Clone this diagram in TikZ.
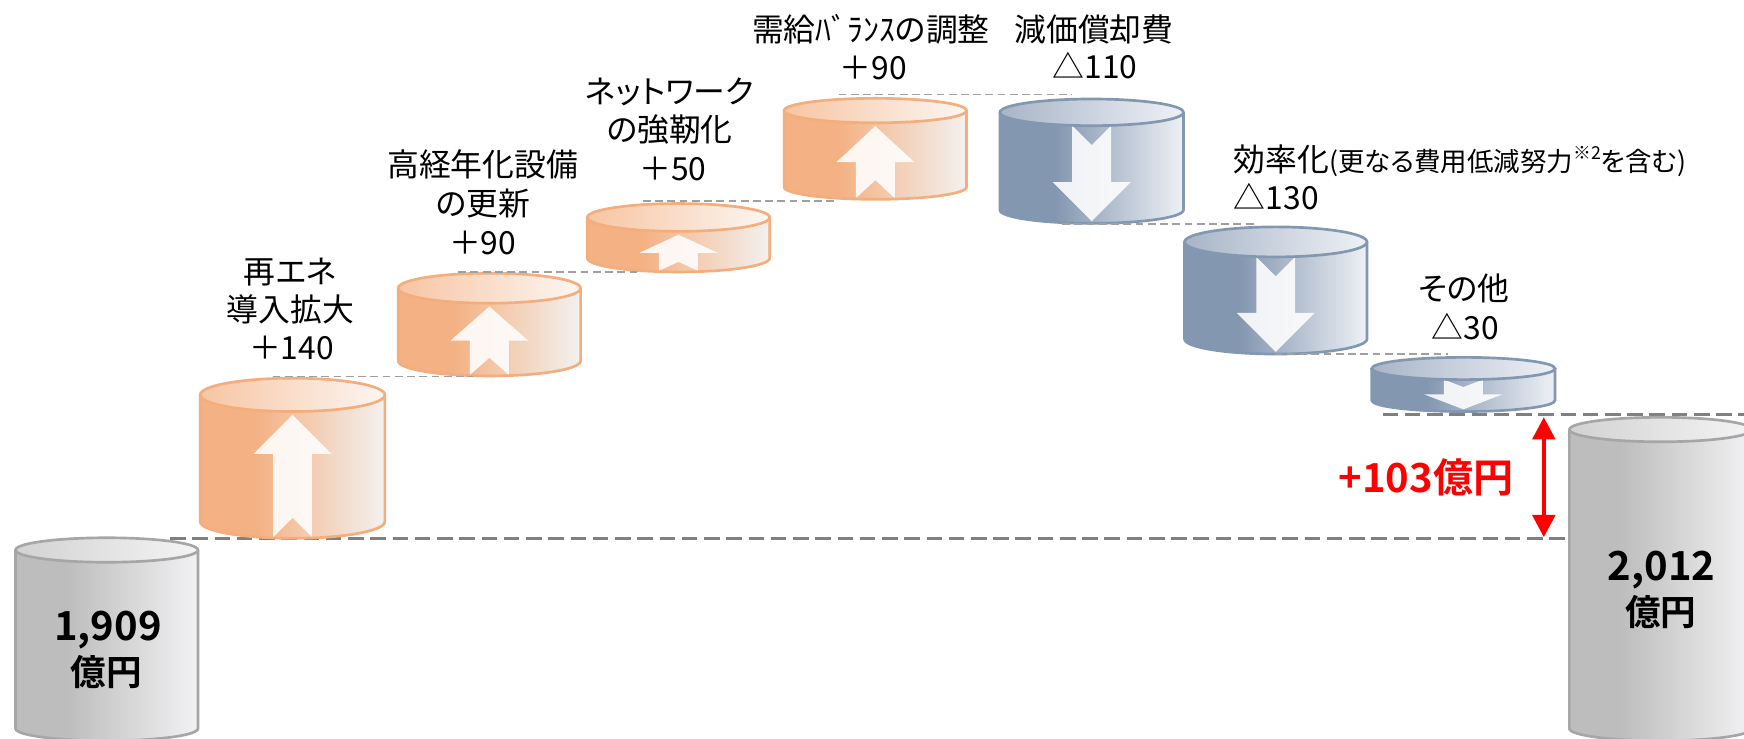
\documentclass[tikz,border=0pt]{standalone}
\usepackage{fontspec}
\setmainfont{Noto Sans CJK JP}[BoldFont={Noto Sans CJK JP Bold}]
\newfontfamily\pf{Noto Sans CJK JP}[RawFeature=+palt]
\usetikzlibrary{arrows.meta}
\definecolor{oL}{HTML}{F4B183}
\definecolor{oR}{HTML}{F3F1F0}
\definecolor{oTL}{HTML}{F7C5A3}
\definecolor{oTR}{HTML}{FCF6F2}
\definecolor{oB}{HTML}{F4AD7C}
\definecolor{bL}{HTML}{8497B0}
\definecolor{bR}{HTML}{EEF1F6}
\definecolor{bTL}{HTML}{A8B5C7}
\definecolor{bTR}{HTML}{EEF1F6}
\definecolor{bB}{HTML}{8497B0}
\definecolor{gL}{HTML}{BDBDBD}
\definecolor{gR}{HTML}{F2F2F4}
\definecolor{gTL}{HTML}{D2D2D2}
\definecolor{gTR}{HTML}{F4F4F4}
\definecolor{gB}{HTML}{A6A6A6}
\definecolor{thinD}{HTML}{A0A0A0}
\definecolor{thickD}{HTML}{808080}
\definecolor{redA}{HTML}{FF0000}
\pgfdeclarehorizontalshading{oside}{100bp}{color(0bp)=(oL); color(40bp)=(oL); color(75bp)=(oR); color(100bp)=(oR)}
\pgfdeclarehorizontalshading{bside}{100bp}{color(0bp)=(bL); color(40bp)=(bL); color(75bp)=(bR); color(100bp)=(bR)}
\pgfdeclarehorizontalshading{gside}{100bp}{color(0bp)=(gL); color(39bp)=(gL); color(75bp)=(gR); color(100bp)=(gR)}
\tikzset{
  arrowfill/.style={fill=white, fill opacity=0.88},
  canline/.style={line width=1.2pt},
  thindash/.style={draw=thinD, line width=0.75pt, dash pattern=on 3.5pt off 2pt},
  thickdash/.style={draw=thickD, line width=1.4pt, dash pattern=on 7pt off 3pt},
  lbl/.style={font={\fontsize{14.3}{17}\selectfont}, inner sep=0pt, anchor=base},
  bignum/.style={font={\bfseries\fontsize{18}{20}\selectfont}, inner sep=0pt, anchor=base},
  bigunit/.style={font={\bfseries\fontsize{16}{18}\selectfont}, inner sep=0pt, anchor=base},
  redlbl/.style={font={\bfseries\fontsize{18}{20}\selectfont}, text=redA, inner sep=0pt, anchor=base},
}
\newcommand\noarr[4]{}
\newcommand\uparr[4]{%
  \pgfmathsetmacro\arT{#2+2*#4+3}%
  \pgfmathsetmacro\arB{#3-1}%
  \pgfmathsetmacro\arL{0.5*min(70,\arB-\arT)}%
  \pgfmathsetmacro\arN{0.5*\arL}%
  \pgfmathsetmacro\arH{\arT+\arL}%
  \fill[arrowfill] (#1,\arT) -- (#1+35,\arH) -- (#1+17.5,\arH) -- (#1+17.5,\arB) -- (#1,\arB-\arN) -- (#1-17.5,\arB) -- (#1-17.5,\arH) -- (#1-35,\arH) -- cycle;
}
\newcommand\downarr[4]{%
  \pgfmathsetmacro\arT{#2+2*#4}%
  \pgfmathsetmacro\arB{#3-2}%
  \pgfmathsetmacro\arL{0.5*min(70,\arB-\arT)}%
  \pgfmathsetmacro\arN{0.5*\arL}%
  \pgfmathsetmacro\arH{\arB-\arL}%
  \fill[arrowfill] (#1-17.5,\arT) -- (#1,\arT+\arN) -- (#1+17.5,\arT) -- (#1+17.5,\arH) -- (#1+35,\arH) -- (#1,\arB) -- (#1-35,\arH) -- (#1-17.5,\arH) -- cycle;
}
% cx, rx, top, bottom, ry, colour prefix, arrow macro
\newcommand\drawcan[7]{%
  \pgfmathsetmacro\cyt{#3+#5}%
  \pgfmathsetmacro\cyb{#4-#5}%
  \pgfmathsetmacro\cxl{#1-#2}%
  \pgfmathsetmacro\cxr{#1+#2}%
  \path[shading=#6side] (\cxl,\cyt) -- (\cxl,\cyb) arc[start angle=180,end angle=0,x radius=#2,y radius=#5] -- (\cxr,\cyt) -- cycle;
  #7{#1}{#3}{#4}{#5}%
  \draw[draw=#6B, canline] (\cxl,\cyt) -- (\cxl,\cyb) arc[start angle=180,end angle=0,x radius=#2,y radius=#5] -- (\cxr,\cyt);
  \shadedraw[left color=#6TL, right color=#6TR, draw=#6B, canline] (#1,\cyt) ellipse[x radius=#2, y radius=#5];
}
\begin{document}
\begin{tikzpicture}[x=0.5pt,y=-0.5pt]
\useasboundingbox (0,0) rectangle (1568,664.4);
\clip (0,0) rectangle (1568,664.4);
\fill[white] (0,0) rectangle (1568,664.4);
% thick guide lines
\coordinate (bl) at (153,484);
\coordinate (br) at (1568,484);
\coordinate (tl) at (1243,373);
\coordinate (tr) at (1568,373);
\draw[thickdash] (bl) -- (br);
\draw[thickdash] (tl) -- (tr);
% cylinders
\drawcan{96}{82}{483.5}{666}{11}{g}{\noarr}
\drawcan{263}{83}{340}{484}{15}{o}{\uparr}
\drawcan{440}{82}{245.6}{338}{13.5}{o}{\uparr}
\drawcan{610}{82}{183}{244.5}{12.5}{o}{\uparr}
\drawcan{787}{82}{88.4}{179.2}{11}{o}{\uparr}
\drawcan{981.5}{82.5}{89}{200.8}{12}{b}{\downarr}
\drawcan{1147}{82}{204}{318.3}{13.5}{b}{\downarr}
\drawcan{1315.7}{82.4}{321.3}{370}{10}{b}{\downarr}
\drawcan{1493}{82}{375.2}{666}{11}{g}{\noarr}
% thin guide lines
\coordinate (l1a) at (245,338.5);  \coordinate (l1b) at (425,338.5);
\coordinate (l2a) at (412,244.5);  \coordinate (l2b) at (573,244.5);
\coordinate (l3a) at (578,180.5);  \coordinate (l3b) at (752,180.5);
\coordinate (l4a) at (754,85);     \coordinate (l4b) at (964,85);
\coordinate (l5a) at (955,201.5);  \coordinate (l5b) at (1128,201.5);
\coordinate (l6a) at (1146,318);   \coordinate (l6b) at (1302,318);
\draw[thindash] (l1a) -- (l1b);
\draw[thindash] (l2a) -- (l2b);
\draw[thindash] (l3a) -- (l3b);
\draw[thindash] (l4a) -- (l4b);
\draw[thindash] (l5a) -- (l5b);
\draw[thindash] (l6a) -- (l6b);
% red difference arrow
\coordinate (ra) at (1388,375);
\coordinate (rb) at (1388,483);
\draw[redA, line width=2pt, {Triangle[width=10pt,length=10pt]}-{Triangle[width=10pt,length=10pt]}] (ra) -- (rb);
\node[redlbl] (diff) at (1282,443) {+103億円};
% labels
\node[lbl] (t1a) at (261,255) {\pf 再エネ};
\node[lbl] (t1b) at (261,289) {\pf 導入拡大};
\node[lbl] (t1c) at (262,323.5) {＋140};
\node[lbl] (t2a) at (434,159) {\pf 高経年化設備};
\node[lbl] (t2b) at (434,194) {\pf の更新};
\node[lbl] (t2c) at (434,228.5) {＋90};
\node[lbl] (t3a) at (602,93) {\pf ネットワーク};
\node[lbl] (t3b) at (602,127) {\pf の強靭化};
\node[lbl] (t3c) at (605,162) {＋50};
\node[lbl] (t4a) at (783,37) {\pf 需給ﾊﾞﾗﾝｽの調整};
\node[lbl] (t4b) at (785,71.5) {＋90};
\node[lbl] (t5a) at (983.5,37) {減価償却費};
\node[lbl] (t5b) at (984.5,70.5) {△110};
\node[lbl, anchor=base west] (t6a) at (1109,154.5) {\pf 効率化{\fontsize{11.9}{14}\selectfont(更なる費用低減努力\raisebox{5.5pt}{\fontsize{8}{9}\selectfont ※2}を含む)}};
\node[lbl, anchor=base west] (t6b) at (1109,188.5) {△130};
\node[lbl] (t7a) at (1316,270.5) {\pf その他};
\node[lbl] (t7b) at (1317.5,305) {△30};
% totals
\node[bignum] (v1) at (97,575.5) {1,909};
\node[bigunit] (u1) at (95.5,616) {億円};
\node[bignum] (v2) at (1494,521.5) {2,012};
\node[bigunit] (u2) at (1493,562) {億円};
\end{tikzpicture}
\end{document}
